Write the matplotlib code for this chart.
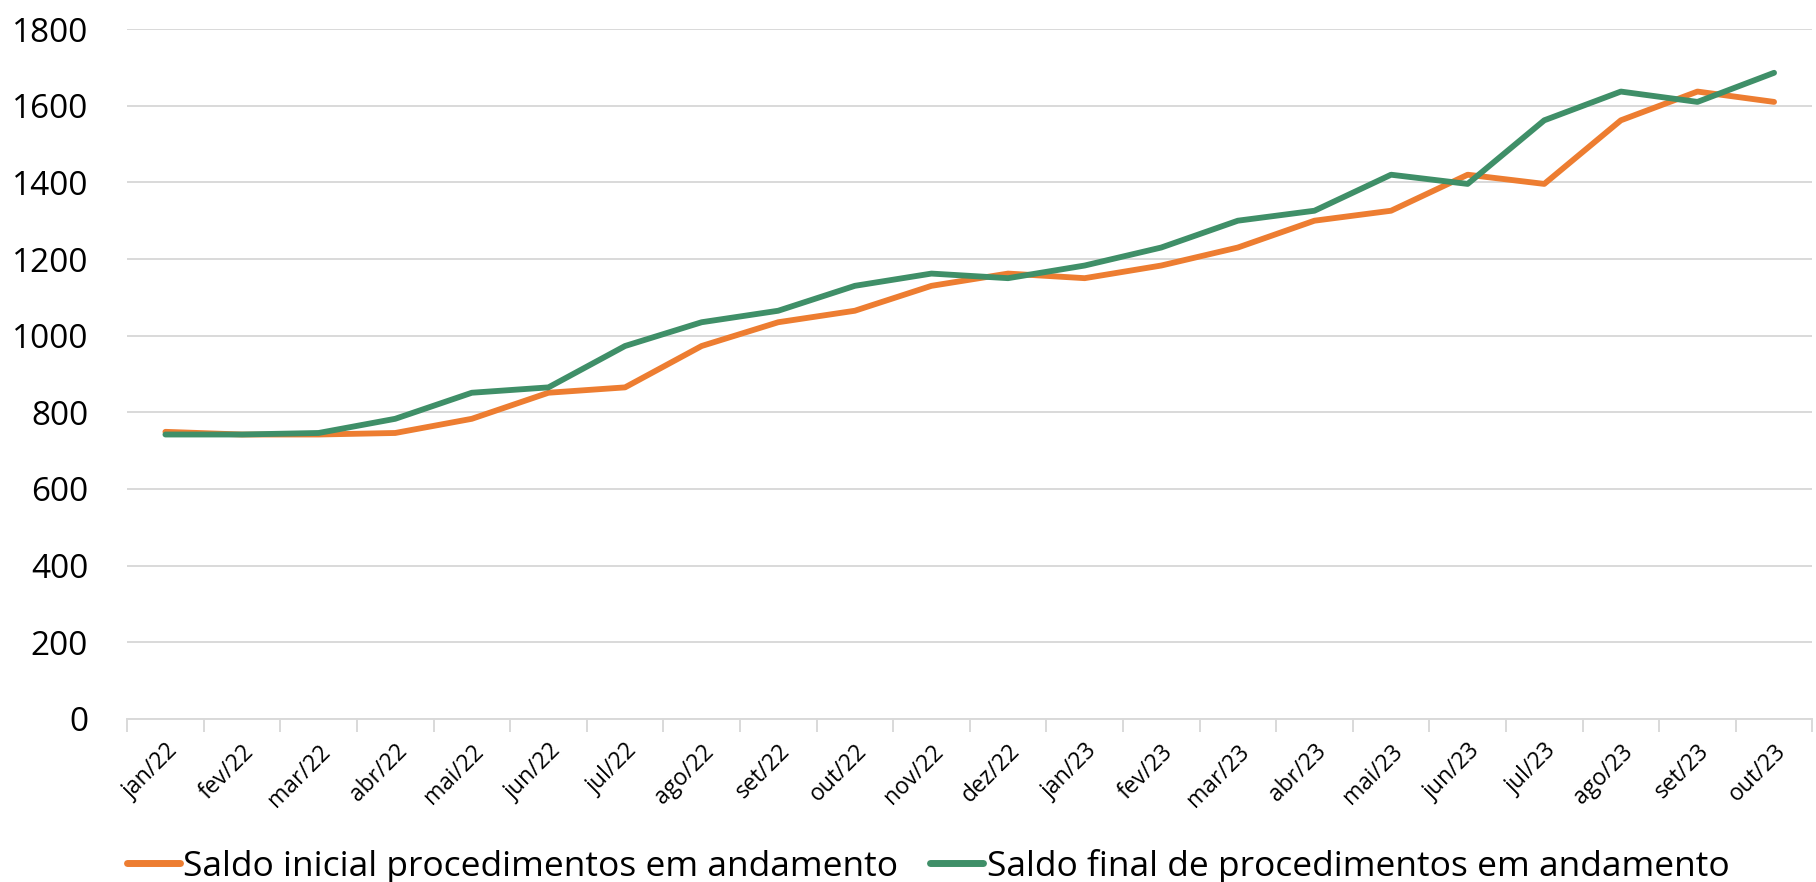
import numpy as np
import matplotlib
matplotlib.use("Agg")
import matplotlib.pyplot as plt

plt.rcParams['font.family'] = ['Open Sans', 'DejaVu Sans']

months = ["jan/22", "fev/22", "mar/22", "abr/22", "mai/22", "jun/22", "jul/22",
          "ago/22", "set/22", "out/22", "nov/22", "dez/22", "jan/23", "fev/23",
          "mar/23", "abr/23", "mai/23", "jun/23", "jul/23", "ago/23", "set/23",
          "out/23"]
saldo_inicial = [749, 742, 742, 746, 783, 851, 865, 973, 1035, 1065, 1130, 1162,
                 1150, 1183, 1230, 1300, 1326, 1420, 1396, 1562, 1637, 1610]
saldo_final = [742, 742, 746, 783, 851, 865, 973, 1035, 1065, 1130, 1162, 1150,
               1183, 1230, 1300, 1326, 1420, 1396, 1562, 1637, 1610, 1686]
yticks = [0, 200, 400, 600, 800, 1000, 1200, 1400, 1600, 1800]

orange = "#ED7D31"
green = "#3F8F68"

fig = plt.figure(figsize=(18.16, 8.82), dpi=100)
ax = fig.add_axes([0.070, 0.185, 0.928, 0.782])

x = np.arange(len(months))
ax.plot(x, saldo_inicial, color=orange, lw=4.2, solid_capstyle="round",
        label="Saldo inicial procedimentos em andamento")
ax.plot(x, saldo_final, color=green, lw=4.2, solid_capstyle="round",
        label="Saldo final de procedimentos em andamento")

ax.set_xlim(-0.5, len(months) - 0.5)
ax.set_ylim(0, 1800)
ax.set_yticks(yticks)
ax.set_yticklabels([str(v) for v in yticks], fontsize=24)
ax.grid(axis="y", color="#D9D9D9", lw=1.4)
ax.set_axisbelow(True)

ax.set_xticks(x)
ax.set_xticklabels(months, rotation=45, ha="right", rotation_mode="anchor",
                   fontsize=16.5)
ax.set_xticks(np.arange(len(months) + 1) - 0.5, minor=True)
ax.tick_params(axis="x", which="major", length=0, pad=15)
ax.tick_params(axis="x", which="minor", length=9, color="#D9D9D9", width=1.4)
ax.tick_params(axis="y", length=0, pad=28)

for s in ["top", "right", "left"]:
    ax.spines[s].set_visible(False)
ax.spines["bottom"].set_color("#D9D9D9")
ax.spines["bottom"].set_linewidth(1.4)

leg = fig.legend(loc="lower center", bbox_to_anchor=(0.511, -0.038), ncol=2,
                 frameon=False, fontsize=25.5, handlelength=1.5,
                 handletextpad=0.1, columnspacing=0.9)
for ln in leg.get_lines():
    ln.set_linewidth(5)

fig.savefig("out.png", dpi=100)
